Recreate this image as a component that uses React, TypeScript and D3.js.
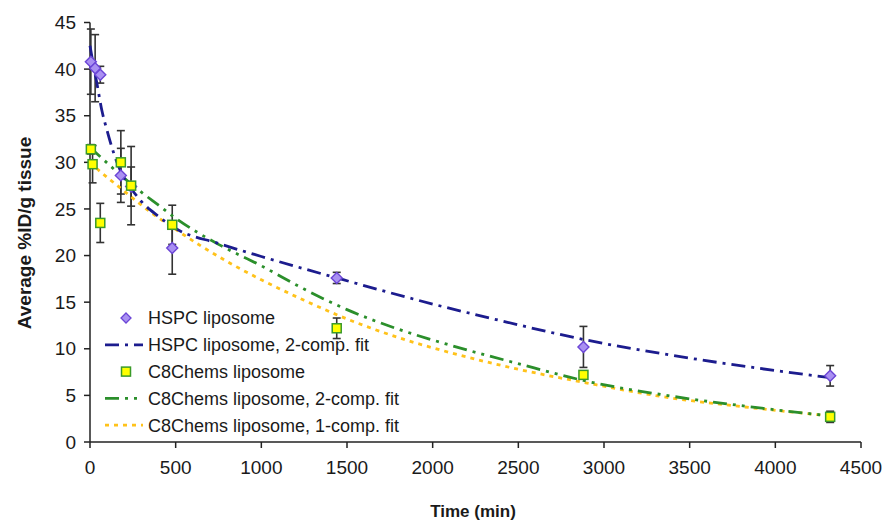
import React from 'react';
import * as d3 from 'd3';

// measured points (time in min, %ID/g, sd)
const hspcTimes = [5, 30, 60, 180, 240, 480, 1440, 2880, 4320];
const hspcValues = [40.8, 40.1, 39.4, 28.6, 27.4, 20.8, 17.6, 10.2, 7.1];
const hspcErrors = [3.5, 3.6, 0.9, 2.9, 2.1, 2.8, 0.6, 2.2, 1.1];

const c8Times = [5, 15, 60, 180, 240, 480, 1440, 2880, 4320];
const c8Values = [31.4, 29.8, 23.5, 30.0, 27.5, 23.3, 12.2, 7.2, 2.7];
const c8Errors = [0.5, 2.0, 2.1, 3.4, 4.2, 2.1, 1.1, 0.4, 0.6];

// fitted curves
const hspcFitTimes = [0, 20, 40, 70, 100, 140, 180, 240, 300, 400, 500, 750, 1000, 1440, 2000, 2400, 2880, 3500, 4320];
const hspcFitValues = [42.5, 40.4, 38.5, 35.5, 33.4, 30.9, 29.0, 27.2, 25.8, 24.2, 22.9, 21.3, 19.9, 17.6, 14.8, 13.0, 11.0, 9.0, 6.9];

const c8FitTimes = [0, 60, 120, 180, 240, 300, 400, 500, 750, 1000, 1250, 1500, 1800, 2100, 2500, 2880, 3400, 3800, 4320];
const c8FitValues = [31.6, 30.6, 29.6, 28.6, 27.7, 26.8, 25.4, 24.0, 21.2, 18.9, 16.4, 14.2, 12.1, 10.4, 8.4, 6.6, 4.9, 3.9, 2.8];

const c8Fit1Times = [0, 60, 120, 240, 350, 500, 650, 835, 1000, 1250, 1500, 1800, 2100, 2500, 2880, 3400, 3800, 4320];
const c8Fit1Values = [30.0, 29.0, 28.1, 26.3, 24.7, 22.8, 21.0, 19.0, 17.4, 15.2, 13.2, 11.2, 9.6, 7.8, 6.4, 4.7, 3.8, 2.8];

const xTicks = [0, 500, 1000, 1500, 2000, 2500, 3000, 3500, 4000, 4500];
const yTicks = [0, 5, 10, 15, 20, 25, 30, 35, 40, 45];

const legendLabels = [
  'HSPC liposome',
  'HSPC liposome, 2-comp. fit',
  'C8Chems liposome',
  'C8Chems liposome, 2-comp. fit',
  'C8Chems liposome, 1-comp. fit',
];

const NAVY = '#1c1c8e';
const GREEN = '#2b8f2b';
const GOLD = '#ffc21a';
const FONT = 'Liberation Sans, Arial, Helvetica, sans-serif';

export default function App() {
  const x = d3.scaleLinear().domain([0, 4500]).range([90, 861]);
  const y = d3.scaleLinear().domain([0, 45]).range([442, 22.5]);

  const line = d3
    .line<[number, number]>()
    .x(d => x(d[0]))
    .y(d => y(d[1]))
    .curve(d3.curveMonotoneX);

  const zip = (a: number[], b: number[]) => a.map((t, i) => [t, b[i]] as [number, number]);

  const diamond = (cx: number, cy: number, r: number) =>
    `M${cx},${cy - r}L${cx + r},${cy}L${cx},${cy + r}L${cx - r},${cy}Z`;

  const errorBar = (t: number, v: number, e: number, key: string) => (
    <g key={key} stroke="#333" strokeWidth={1.6}>
      <line x1={x(t)} x2={x(t)} y1={y(v + e)} y2={y(v - e)} />
      <line x1={x(t) - 4} x2={x(t) + 4} y1={y(v + e)} y2={y(v + e)} />
      <line x1={x(t) - 4} x2={x(t) + 4} y1={y(v - e)} y2={y(v - e)} />
    </g>
  );

  const legendX = 105;
  const legendY = 318;
  const legendStep = 26.8;

  return (
    <svg width={887} height={525} style={{ position: 'absolute', left: 0, top: 0 }} fontFamily={FONT}>
      <rect width={887} height={525} fill="#fff" />

      {/* axes */}
      <line x1={90} x2={90} y1={y(45)} y2={y(0)} stroke="#222" strokeWidth={1.5} />
      <line x1={90} x2={861} y1={y(0)} y2={y(0)} stroke="#222" strokeWidth={1.5} />
      {yTicks.map(t => (
        <g key={'y' + t}>
          <line x1={84} x2={90} y1={y(t)} y2={y(t)} stroke="#222" strokeWidth={1.5} />
          <text x={76} y={y(t)} dy="0.35em" textAnchor="end" fontSize={19} fill="#1a1a1a">
            {t}
          </text>
        </g>
      ))}
      {xTicks.map(t => (
        <g key={'x' + t}>
          <line x1={x(t)} x2={x(t)} y1={y(0)} y2={y(0) + 6} stroke="#222" strokeWidth={1.5} />
          <text x={x(t)} y={467} dy="0.35em" textAnchor="middle" fontSize={19} fill="#1a1a1a">
            {t}
          </text>
        </g>
      ))}

      <text
        transform="translate(24,233) rotate(-90)"
        textAnchor="middle"
        dy="0.35em"
        fontSize={19}
        fontWeight="bold"
        fill="#1a1a1a"
      >
        Average %ID/g tissue
      </text>
      <text x={473} y={511} textAnchor="middle" dy="0.35em" fontSize={17} fontWeight="bold" fill="#1a1a1a">
        Time (min)
      </text>

      {/* error bars */}
      {hspcTimes.map((t, i) => errorBar(t, hspcValues[i], hspcErrors[i], 'he' + i))}
      {c8Times.map((t, i) => errorBar(t, c8Values[i], c8Errors[i], 'ce' + i))}

      {/* fits */}
      <path d={line(zip(c8Fit1Times, c8Fit1Values)) || ''} fill="none" stroke={GOLD} strokeWidth={2.8} strokeDasharray="4,5" />
      <path d={line(zip(c8FitTimes, c8FitValues)) || ''} fill="none" stroke={GREEN} strokeWidth={2.8} strokeDasharray="14,6,3,6,3,6" />
      <path d={line(zip(hspcFitTimes, hspcFitValues)) || ''} fill="none" stroke={NAVY} strokeWidth={2.8} strokeDasharray="14,6,3,6" />

      {/* markers */}
      {hspcTimes.map((t, i) => (
        <path key={'hm' + i} d={diamond(x(t), y(hspcValues[i]), 5.5)} fill="#a990f2" stroke="#6b45d6" strokeWidth={1.4} />
      ))}
      {c8Times.map((t, i) => (
        <rect
          key={'cm' + i}
          x={x(t) - 4.5}
          y={y(c8Values[i]) - 4.5}
          width={9}
          height={9}
          fill="#ffff00"
          stroke="#3a9a2a"
          strokeWidth={1.5}
        />
      ))}

      {/* legend */}
      {legendLabels.map((label, i) => {
        const ly = legendY + i * legendStep;
        return (
          <g key={'lg' + i}>
            {i === 0 && <path d={diamond(126, ly, 5)} fill="#a990f2" stroke="#6b45d6" strokeWidth={1.3} />}
            {i === 2 && <rect x={121.5} y={ly - 4.5} width={9} height={9} fill="#ffff00" stroke="#3a9a2a" strokeWidth={1.5} />}
            {i === 1 && <line x1={legendX} x2={143} y1={ly} y2={ly} stroke={NAVY} strokeWidth={2.8} strokeDasharray="14,6,3,6" />}
            {i === 3 && <line x1={legendX} x2={143} y1={ly} y2={ly} stroke={GREEN} strokeWidth={2.8} strokeDasharray="14,6,3,6,3,6" />}
            {i === 4 && <line x1={legendX} x2={143} y1={ly} y2={ly} stroke={GOLD} strokeWidth={2.8} strokeDasharray="4,5" />}
            <text x={148} y={ly} dy="0.35em" fontSize={18} fill="#1a1a1a">
              {label}
            </text>
          </g>
        );
      })}
    </svg>
  );
}
